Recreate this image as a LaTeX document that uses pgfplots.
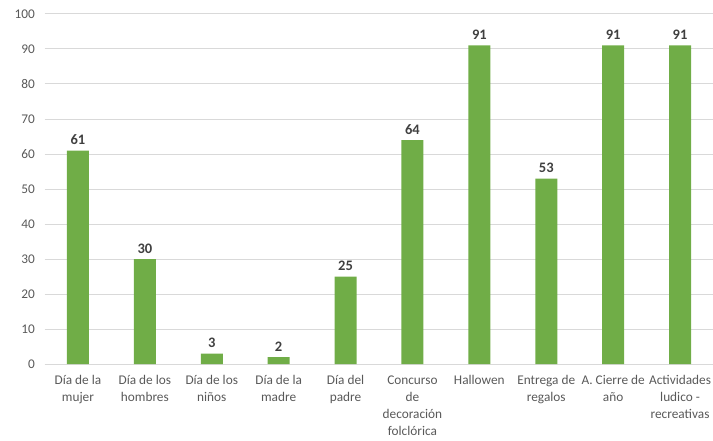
\documentclass[border=0pt]{standalone}
\usepackage{pgfplots}
\pgfplotsset{compat=1.18}
\usepackage{fontspec}
\setmainfont{Carlito}
\definecolor{bargreen}{HTML}{70AD47}
\definecolor{gridgray}{HTML}{D9D9D9}
\definecolor{ticktext}{HTML}{595959}
\definecolor{labeltext}{HTML}{404040}
\begin{document}
\begin{tikzpicture}
\useasboundingbox (0,0) rectangle (713pt,440pt);
\begin{axis}[
  at={(44.5pt,76pt)}, anchor=south west,
  scale only axis, width=669pt, height=350pt,
  ymin=0, ymax=100, ytick={0,10,...,100},
  xmin=-0.5, xmax=9.5,
  xtick={0,...,9},
  xticklabels={{Día de la\\mujer},{Día de los\\hombres},{Día de los\\niños},{Día de la\\madre},{Día del\\padre},{Concurso\\de\\decoración\\folclórica},{Hallowen},{Entrega de\\regalos},{A. Cierre de\\año},{Actividades\\ludico -\\recreativas}},
  xticklabel style={align=center, font=\fontsize{13.3}{17}\selectfont, text=ticktext, anchor=north, yshift=-8pt},
  yticklabel style={font=\fontsize{13.3}{16}\selectfont, text=ticktext, xshift=-6pt},
  /pgf/number format/assume math mode=true,
  ymajorgrids, grid style={gridgray, line width=1pt},
  axis y line*=left,
  y axis line style={draw=none},
  axis x line*=bottom,
  x axis line style={gridgray, line width=1pt, -},
  major tick length=0pt,
  ybar, bar width=22pt,
  nodes near coords,
  nodes near coords style={font=\fontsize{14.5}{16}\selectfont\bfseries, text=labeltext, anchor=south, yshift=2pt},
  clip=false,
]
\addplot[fill=bargreen, draw=none] coordinates {(0,61) (1,30) (2,3) (3,2) (4,25) (5,64) (6,91) (7,53) (8,91) (9,91)};
\end{axis}
\end{tikzpicture}
\end{document}
